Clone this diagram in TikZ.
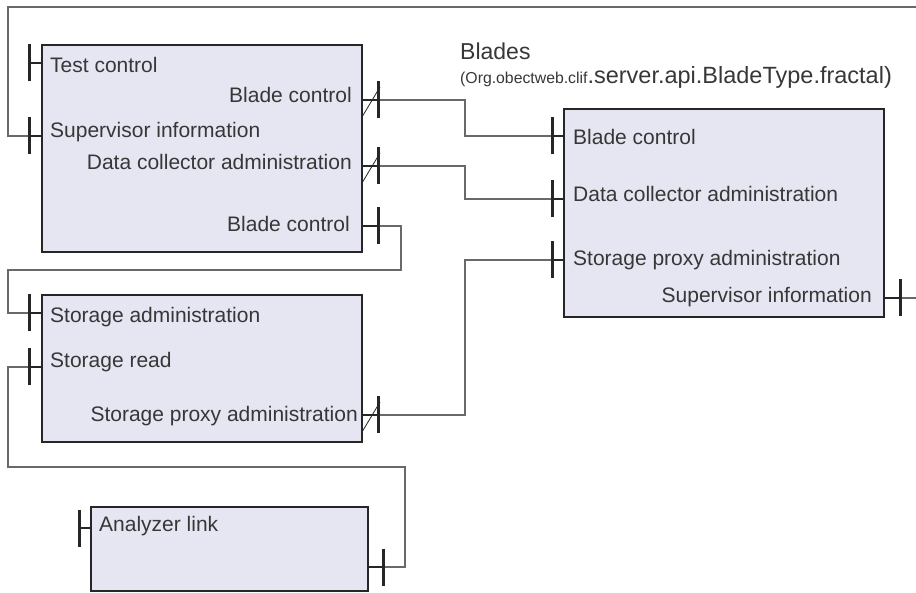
\documentclass[tikz,border=0pt]{standalone}
\usepackage{fontspec}
\setmainfont{Liberation Sans}
\usetikzlibrary{arrows.meta,calc}
\definecolor{boxfill}{RGB}{230,229,242}
\definecolor{boxline}{RGB}{38,38,38}
\definecolor{wirecol}{RGB}{105,105,105}
\definecolor{txtcol}{RGB}{55,55,55}

\begin{document}
\begin{tikzpicture}[x=1pt, y=-1pt,
    comp/.style={draw=boxline, fill=boxfill, line width=2.6pt, inner sep=0pt},
    lbl/.style={font=\fontsize{21}{25}\selectfont, text=txtcol, inner sep=0pt},
    stub/.style={draw=boxline, line width=2.6pt, -{Bar[width=37pt]}},
    wire/.style={draw=wirecol, line width=1.1pt},
    slash/.style={draw=boxline, line width=0.8pt}
]
    \useasboundingbox (0,0) rectangle (916,593);

    % components
    \node[comp, minimum width=320, minimum height=207] (ctrl) at (202,148.5) {};
    \node[comp, minimum width=320, minimum height=147] (store) at (202,368.5) {};
    \node[comp, minimum width=277, minimum height=84] (anlz) at (229.5,549) {};
    \node[comp, minimum width=320, minimum height=208] (blades) at (724,213) {};

    \node[font=\fontsize{23}{27}\selectfont, text=txtcol, inner sep=0pt, anchor=base west] (title) at (460,60) {Blades};
    \node[font=\fontsize{23.5}{27}\selectfont, text=txtcol, inner sep=0pt, anchor=base west] (subtitle) at (460,84)
        {{\fontsize{15.8}{18}\selectfont (Org.obectweb.clif}.server.api.BladeType.fractal)};

    % ports
    \coordinate (tc) at (28,63);
    \coordinate (si) at (28,136);
    \coordinate (bc1) at (380,100);
    \coordinate (dca1) at (380,166);
    \coordinate (bc2) at (380,226);
    \coordinate (sa) at (28,313);
    \coordinate (sr) at (28,367);
    \coordinate (spa) at (380,415);
    \coordinate (al) at (78,528);
    \coordinate (an) at (385,567);
    \coordinate (bbc) at (551,136);
    \coordinate (bdca) at (551,199);
    \coordinate (bspa) at (551,260);
    \coordinate (bsi) at (902,298);
    \coordinate (topend) at (916,7);
    \coordinate (rightend) at (916,298);

    \draw[stub] (ctrl.west |- tc) -- (tc);
    \draw[stub] (ctrl.west |- si) -- (si);
    \draw[stub] (ctrl.east |- bc1) -- (bc1);
    \draw[stub] (ctrl.east |- dca1) -- (dca1);
    \draw[stub] (ctrl.east |- bc2) -- (bc2);
    \draw[stub] (store.west |- sa) -- (sa);
    \draw[stub] (store.west |- sr) -- (sr);
    \draw[stub] (store.east |- spa) -- (spa);
    \draw[stub] (anlz.west |- al) -- (al);
    \draw[stub] (anlz.east |- an) -- (an);
    \draw[stub] (blades.west |- bbc) -- (bbc);
    \draw[stub] (blades.west |- bdca) -- (bdca);
    \draw[stub] (blades.west |- bspa) -- (bspa);
    \draw[stub] (blades.east |- bsi) -- (bsi);

    \draw[slash] ($(bc1)+(-18,17)$) -- ($(bc1)+(0,-13)$);
    \draw[slash] ($(dca1)+(-18,17)$) -- ($(dca1)+(0,-13)$);
    \draw[slash] ($(spa)+(-18,17)$) -- ($(spa)+(0,-13)$);

    % connectors
    \draw[wire] (si) -- ++(-20,0) |- (topend);
    \draw[wire] (bc1) -- ++(85,0) |- (bbc);
    \draw[wire] (dca1) -- ++(85,0) |- (bdca);
    \draw[wire] (bc2) -- ++(21,0) -- ++(0,44) -| ([xshift=-20pt]sa) -- (sa);
    \draw[wire] (spa) -- ++(85,0) |- (bspa);
    \draw[wire] (sr) -- ++(-20,0) -- ++(0,100) -| ([xshift=20pt]an) -- (an);
    \draw[wire] (bsi) -- (rightend);

    % labels
    \node[lbl, anchor=base west] (tcl) at (50,73) {Test control};
    \node[lbl, anchor=base west] (sil) at (50,138) {Supervisor information};
    \node[lbl, anchor=base east] (bc1l) at (352,103) {Blade control};
    \node[lbl, anchor=base east] (dca1l) at (352,170) {Data collector administration};
    \node[lbl, anchor=base east] (bc2l) at (350,232) {Blade control};
    \node[lbl, anchor=base west] (sal) at (50,323) {Storage administration};
    \node[lbl, anchor=base west] (srl) at (50,368) {Storage read};
    \node[lbl, anchor=base east] (spal) at (358,422) {Storage proxy administration};
    \node[lbl, anchor=base west] (all) at (99,531) {Analyzer link};
    \node[lbl, anchor=base west] (bbcl) at (573,145) {Blade control};
    \node[lbl, anchor=base west] (bdcal) at (573,202) {Data collector administration};
    \node[lbl, anchor=base west] (bspal) at (573,266) {Storage proxy administration};
    \node[lbl, anchor=base east] (bsil) at (872,303) {Supervisor information};
\end{tikzpicture}
\end{document}
